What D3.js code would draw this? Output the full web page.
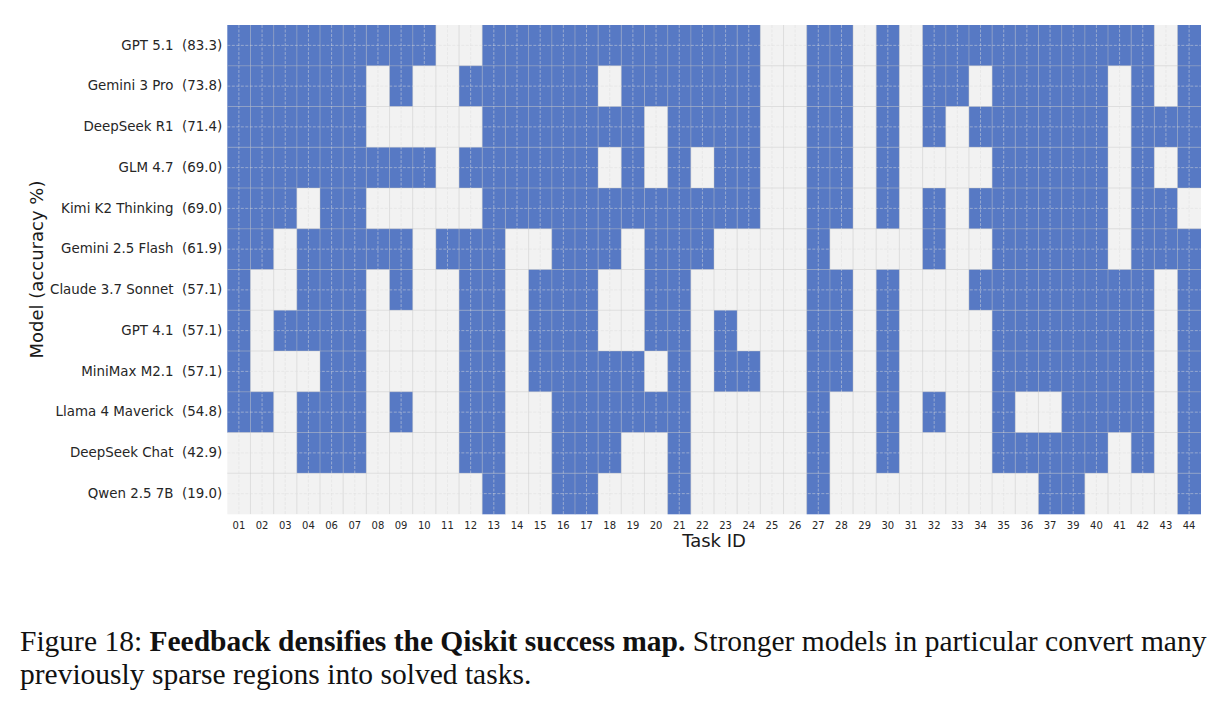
<!DOCTYPE html>
<html>
<head>
<meta charset="utf-8">
<script src="https://cdn.jsdelivr.net/npm/d3@7"></script>
<style>
  body { margin: 0; background: #fff; }
  svg { display: block; }
  .tick-y { font-family: "DejaVu Sans", sans-serif; font-size: 13.4px; fill: #262626; white-space: pre; }
  .tick-x { font-family: "DejaVu Sans", sans-serif; font-size: 10px; fill: #262626; }
  .axis-label { font-family: "DejaVu Sans", sans-serif; font-size: 18px; fill: #1a1a1a; }
  .caption { font-family: "Liberation Serif", "Times New Roman", serif; fill: #111; }
</style>
</head>
<body>
<div id="contents"></div>
<script>
/* Data */
const tasks = ["01","02","03","04","06","07","08","09","10","11","12","13","14","15","16","17","18","19","20","21","22",
  "23","24","25","26","27","28","29","30","31","32","33","34","35","36","37","39","40","41","42","43","44"]

const models = ["GPT 5.1", "Gemini 3 Pro", "DeepSeek R1", "GLM 4.7", "Kimi K2 Thinking", "Gemini 2.5 Flash",
  "Claude 3.7 Sonnet", "GPT 4.1", "MiniMax M2.1", "Llama 4 Maverick", "DeepSeek Chat", "Qwen 2.5 7B"]

const accuracy = [83.3, 73.8, 71.4, 69.0, 69.0, 61.9, 57.1, 57.1, 57.1, 54.8, 42.9, 19.0]

// 1 = solved, one row per model, columns in task order
const solved = [
  [1,1,1,1,1,1,1,1,1, 0,0, 1,1,1,1,1,1,1,1,1,1,1,1, 0,0, 1,1, 0, 1, 0, 1,1,1,1,1,1,1,1,1,1, 0, 1],
  [1,1,1,1,1,1, 0,1,0,0,1, 1,1,1,1,1, 0, 1,1,1,1,1,1, 0,0, 1,1, 0,1,0, 1,1,0, 1,1,1,1,1, 0,1,0,1],
  [1,1,1,1,1,1, 0,0,0,0,0, 1,1,1,1,1,1,1, 0, 1,1,1,1, 0,0, 1,1, 0,1,0,1,0, 1,1,1,1,1,1, 0, 1,1,1],
  [1,1,1,1,1,1,1,1,1, 0,1, 1,1,1,1,1, 0,1,0,1,0,1,1, 0,0, 1,1, 0,1, 0,0,0,0, 1,1,1,1,1, 0,1,0,1],
  [1,1,1,0,1,1, 0,0,0,0,0, 1,1,1,1,1,1,1,1,1,1,1,1, 0,0, 1,1, 0,1,0,1,0, 1,1,1,1,1,1, 0,1,1,0],
  [1,1,0,1,1,1,1,1, 0,1,1,1, 0,0, 1,1,1, 0, 1,1,1, 0,0,0,0, 1, 0,0,0,0, 1, 0,0, 1,1,1,1,1, 0, 1,1,1],
  [1,0,0,1,1,1, 0,1,0,0, 1,1, 0, 1,1,1, 0,0, 1,1, 0,0,0,0,0, 1,1, 0,1, 0,0,0, 1,1,1,1,1,1,1,1, 0,1],
  [1,0,1,1,1,1, 0,0,0,0, 1,1, 0, 1,1,1, 0,0, 1,1, 0,1,0,0,0, 1,1, 0,1, 0,0,0,0, 1,1,1,1,1,1,1, 0,1],
  [1,0,0,0,1,1, 0,0,0,0, 1,1, 0, 1,1,1,1,1, 0,1,0,1,1,0,0, 1,1, 0,1, 0,0,0,0, 1,1,1,1,1,1,1, 0,1],
  [1,1,0,1,1,1, 0,1,0,0, 1,1, 0,0, 1,1,1,1,1,1, 0,0,0,0,0, 1, 0,0, 1, 0,1,0,0, 1,0,0, 1,1,1,1, 0,1],
  [0,0,0,1,1,1, 0,0,0,0, 1,1, 0,0, 1,1,1, 0,0, 1, 0,0,0,0,0, 1, 0,0, 1, 0,0,0,0, 1,1,1,1,1, 0,1,0,1],
  [0,0,0,0,0,0,0,0,0,0,0, 1,0,0,1,1,0,0,0,1, 0,0,0,0,0, 1, 0,0,0,0,0,0,0,0,0, 1,1, 0,0,0,0, 1]
]
/* End Data */

const width = 1224
const height = 709
const plotLeft = 227.3
const plotRight = 1200.7
const plotTop = 25
const plotBottom = 514

const svg = d3.select("#contents").append("svg")
    .attr("width", width)
    .attr("height", height)

const x = d3.scaleBand().domain(tasks).range([plotLeft, plotRight])
const y = d3.scaleBand().domain(models).range([plotTop, plotBottom])
const color = d3.scaleOrdinal().domain([0, 1]).range(["#f2f2f2", "#5779c4"])

const cells = models.flatMap((m, i) => tasks.map((t, j) => ({model: m, task: t, value: solved[i][j]})))

svg.append("g")
  .selectAll("rect")
  .data(cells)
  .join("rect")
    .attr("x", d => x(d.task))
    .attr("y", d => y(d.model))
    .attr("width", x.bandwidth() + 0.3)
    .attr("height", y.bandwidth() + 0.3)
    .attr("fill", d => color(d.value))

// minor grid on cell borders (solid)
const grid = svg.append("g")
const xEdges = tasks.map(t => x(t)).slice(1)
const yEdges = models.map(m => y(m)).slice(1)

grid.selectAll(".vminor").data(xEdges).join("line")
    .attr("x1", d => d).attr("x2", d => d)
    .attr("y1", plotTop).attr("y2", plotBottom)
    .attr("stroke", "#c4c4c4").attr("stroke-opacity", 0.55).attr("stroke-width", 0.8)

grid.selectAll(".hminor").data(yEdges).join("line")
    .attr("y1", d => d).attr("y2", d => d)
    .attr("x1", plotLeft).attr("x2", plotRight)
    .attr("stroke", "#c4c4c4").attr("stroke-opacity", 0.55).attr("stroke-width", 0.8)

// major grid on cell centres (dashed)
grid.selectAll(".vmajor").data(tasks).join("line")
    .attr("x1", d => x(d) + x.bandwidth() / 2).attr("x2", d => x(d) + x.bandwidth() / 2)
    .attr("y1", plotTop).attr("y2", plotBottom)
    .attr("stroke", "#dedede").attr("stroke-opacity", 0.6).attr("stroke-width", 0.8)
    .attr("stroke-dasharray", "3,1.5")

grid.selectAll(".hmajor").data(models).join("line")
    .attr("y1", d => y(d) + y.bandwidth() / 2).attr("y2", d => y(d) + y.bandwidth() / 2)
    .attr("x1", plotLeft).attr("x2", plotRight)
    .attr("stroke", "#dedede").attr("stroke-opacity", 0.6).attr("stroke-width", 0.8)
    .attr("stroke-dasharray", "3,1.5")

// axes
const xAxis = svg.append("g")
    .attr("transform", `translate(0,${plotBottom})`)
    .call(d3.axisBottom(x).tickSize(0).tickPadding(8))
xAxis.select(".domain").remove()
xAxis.selectAll("text").attr("class", "tick-x").attr("fill", null)

const labelOf = d3.scaleOrdinal().domain(models)
    .range(models.map((m, i) => `${m}  (${accuracy[i].toFixed(1)})`))

const yAxis = svg.append("g")
    .attr("transform", `translate(${plotLeft},0)`)
    .call(d3.axisLeft(y).tickSize(0).tickPadding(5).tickFormat(labelOf))
yAxis.select(".domain").remove()
yAxis.selectAll("text").attr("class", "tick-y").attr("fill", null)

svg.append("text")
    .attr("class", "axis-label")
    .attr("x", (plotLeft + plotRight) / 2)
    .attr("y", 546.5)
    .attr("text-anchor", "middle")
    .text("Task ID")

svg.append("text")
    .attr("class", "axis-label")
    .attr("transform", `translate(43,${(plotTop + plotBottom) / 2}) rotate(-90)`)
    .attr("text-anchor", "middle")
    .text("Model (accuracy %)")

// caption
const cap1 = svg.append("text").attr("class", "caption").attr("x", 20).attr("y", 651)
cap1.append("tspan").text("Figure 18: ")
cap1.append("tspan").attr("font-weight", "bold").text("Feedback densifies the Qiskit success map.")
cap1.append("tspan").text(" Stronger models in particular convert many")

const cap2 = svg.append("text").attr("class", "caption").attr("x", 20).attr("y", 684)
    .text("previously sparse regions into solved tasks.")

// fit caption font so the first line spans the page like the figure
cap1.style("font-size", "26px")
const len = cap1.node().getComputedTextLength()
const fs = 26 * 1187 / len
cap1.style("font-size", fs + "px")
cap2.style("font-size", fs + "px")
</script>
</body>
</html>
